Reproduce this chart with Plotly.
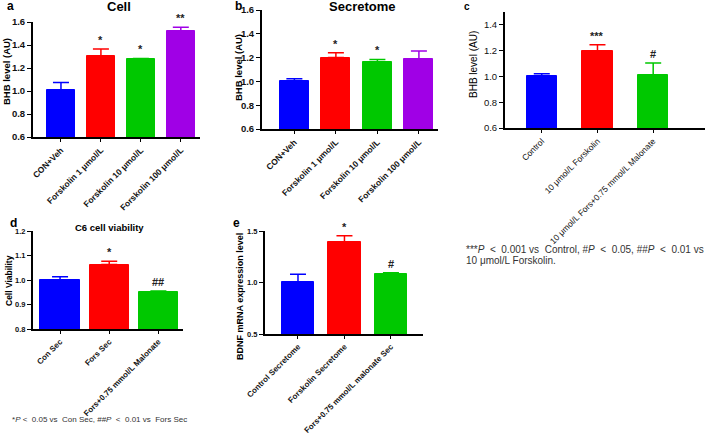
import plotly.graph_objects as go

W, H = 709, 434

# panel a - Cell
a_labels = ["CON+Veh", "Forskolin 1 μmol/L", "Forskolin 10 μmol/L", "Forskolin 100 μmol/L"]
a_mean = [1.005, 1.305, 1.28, 1.525]
a_sem = [0.07, 0.06, 0.003, 0.03]
a_sig = ["", "*", "*", "**"]

# panel b - Secretome
b_labels = ["CON+Veh", "Forskolin 1 μmol/L", "Forskolin 10 μmol/L", "Forskolin 100 μmol/L"]
b_mean = [1.005, 1.2, 1.16, 1.185]
b_sem = [0.017, 0.04, 0.025, 0.07]
b_sig = ["", "*", "*", ""]

# panel c
c_labels = ["Control", "10 μmol/L Forskolin", "10 μmol/L Fors+0.75 mmol/L Malonate"]
c_mean = [1.005, 1.2, 1.01]
c_sem = [0.015, 0.045, 0.095]
c_sig = ["", "***", "#"]

# panel d - C6 cell viability
d_labels = ["Con Sec", "Fors Sec", "Fors+0.75 mmol/L Malonate"]
d_mean = [1.0, 1.063, 0.95]
d_sem = [0.013, 0.014, 0.005]
d_sig = ["", "*", "##"]

# panel e - BDNF
e_labels = ["Control Secretome", "Forskolin Secretome", "Fors+0.75 mmol/L malonate Sec"]
e_mean = [1.005, 1.39, 1.08]
e_sem = [0.075, 0.065, 0.015]
e_sig = ["", "*", "#"]

colors4 = ["#0000FF", "#FF0000", "#00C800", "#A000E6"]
FONT = "Arial, Liberation Sans, sans-serif"
SP = "\u00a0"


def fx(px):
    return px / W


def fy(py):
    return 1 - py / H


fig = go.Figure()

# (labels, means, sems, sig, x px, y px, yrange, dtick, xrange, width, bold, tick size, xtick size, xtick bold)
panels = [
    (a_labels, a_mean, a_sem, a_sig, (33, 200), (22, 137), [0.6, 1.6], 0.2, [-0.7, 3.48], 0.7, True, 9.5, 8.5, True),
    (b_labels, b_mean, b_sem, b_sig, (262, 438), (10, 129), [0.6, 1.6], 0.2, [-0.78, 3.46], 0.7, True, 9.5, 8.5, True),
    (c_labels, c_mean, c_sem, c_sig, (505, 705), (12, 128), [0.6, 1.5], 0.2, [-0.66, 2.93], 0.54, False, 9.5, 8.5, False),
    (d_labels, d_mean, d_sem, d_sig, (33, 183), (231, 329), [0.8, 1.2], 0.1, [-0.55, 2.5], 0.8, True, 7.5, 8, True),
    (e_labels, e_mean, e_sem, e_sig, (265, 423), (231, 334), [0.5, 1.5], 0.5, [-0.71, 2.69], 0.69, True, 7.5, 8, True),
]

for i, (labels, mean, sem, sig, xp, yp, yr, dt, xr, bw, bold, ts, xts, xbold) in enumerate(panels):
    n = str(i + 1) if i else ""
    xa, ya = "x" + n, "y" + n
    for j in range(len(labels)):
        col = colors4[j]
        fig.add_trace(go.Bar(
            x=[labels[j]], y=[mean[j]],
            xaxis=xa, yaxis=ya, width=bw,
            marker=dict(color=col, line=dict(color=col, width=1)),
            error_y=dict(type="data", array=[sem[j]], arrayminus=[0], symmetric=False,
                         color=col, thickness=1.5, width=8),
            showlegend=False,
        ))
        if sig[j]:
            fig.add_annotation(x=labels[j], y=mean[j] + sem[j], xref=xa, yref=ya,
                               text=sig[j], showarrow=False, yanchor="bottom", yshift=1,
                               font=dict(size=11, color="#222", family=FONT, weight="bold"))
    fig.layout["xaxis" + n] = dict(
        domain=[fx(xp[0]), fx(xp[1])], anchor=ya, range=xr, type="category",
        categoryorder="array", categoryarray=labels, automargin=False,
        showline=True, linecolor="black", linewidth=2, ticks="outside", ticklen=3,
        tickwidth=1.2, tickcolor="black", tickangle=-45, showgrid=False, zeroline=False,
        tickfont=dict(size=xts, family=FONT, color="#111", weight="bold" if xbold else "normal"),
    )
    fig.layout["yaxis" + n] = dict(
        domain=[fy(yp[1]), fy(yp[0])], anchor=xa, range=yr, dtick=dt, tick0=yr[0],
        automargin=False,
        showline=True, linecolor="black", linewidth=2, ticks="outside", ticklen=4,
        tickwidth=1.2, tickcolor="black", showgrid=False, zeroline=False, tickformat=".1f",
        tickfont=dict(size=ts, family=FONT, color="#111", weight="bold" if bold else "normal"),
    )

fig.update_layout(barmode="overlay", bargap=0)


def note(x, y, text, size=9, bold=True, angle=0, xanchor="left", color="black"):
    fig.add_annotation(x=fx(x), y=fy(y), xref="paper", yref="paper", text=text,
                       showarrow=False, xanchor=xanchor, yanchor="middle", textangle=angle,
                       align="left",
                       font=dict(size=size, family=FONT, color=color,
                                 weight="bold" if bold else "normal"))


# panel letters
note(5, 6, "a", 12)
note(233, 6, "b", 12)
note(462, 6, "c", 10)
note(8, 223, "d", 12)
note(231, 223, "e", 12)

# titles
note(119, 6, "Cell", 13, xanchor="center")
note(362, 7, "Secretome", 13, xanchor="center")
note(109, 228, "C6 cell viability", 9.5, xanchor="center")

# y axis titles
note(7, 72, "BHB level (AU)", 9.5, angle=-90, xanchor="center")
note(238, 67, "BHB level (AU)", 9.5, angle=-90, xanchor="center")
note(474, 65, "BHB level (AU)", 10, bold=False, angle=-90, xanchor="center")
note(9, 281, "Cell Viability", 8.5, angle=-90, xanchor="center")
note(240, 296, "BDNF mRNA expression level", 9, angle=-90, xanchor="center")

# footnotes
note(464, 249, f"***<i>P</i>{SP}{SP}<{SP}{SP}0.001 vs{SP}{SP}Control, #<i>P</i>{SP}{SP}<{SP}{SP}0.05, "
               f"##<i>P</i>{SP}{SP}<{SP}{SP}0.01 vs", 10, bold=False, color="#333")
note(464, 260, "10 μmol/L Forskolin.", 10, bold=False, color="#333")
note(10, 419, f"*<i>P</i>{SP}<{SP}{SP}0.05 vs{SP}{SP}Con Sec, ##<i>P</i>{SP}{SP}<{SP}{SP}0.01 vs{SP}{SP}Fors Sec",
     8, bold=False, color="#333")

fig.update_layout(width=W, height=H, margin=dict(l=0, r=0, t=0, b=0),
                  template="none", paper_bgcolor="white", plot_bgcolor="white",
                  font=dict(family=FONT))

fig.write_html("out.html", config={"displayModeBar": False},
               post_script="document.body.style.margin='0';")
